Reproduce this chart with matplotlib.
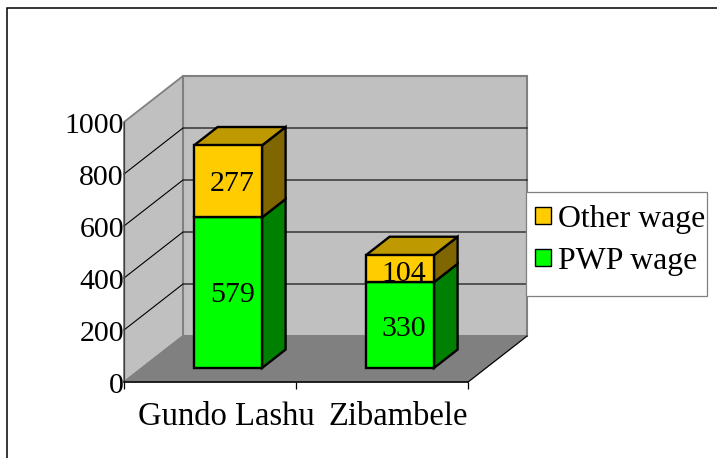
import matplotlib
matplotlib.use("Agg")
import matplotlib.pyplot as plt
from matplotlib.patches import Polygon, Patch, Rectangle
from matplotlib.transforms import ScaledTranslation

# data
categories = ["Gundo Lashu", "Zibambele"]
pwp_wage = [579, 330]
other_wage = [277, 104]
yticks = [0, 200, 400, 600, 800, 1000]

W, H = 717, 458
plt.rcParams['font.family'] = ['Liberation Serif', 'DejaVu Serif']

fig = plt.figure(figsize=(W / 100, H / 100), dpi=100)
ax = fig.add_axes([124 / W, 1 - 382 / H, 344 / W, 260 / H])
ax.set_xlim(0, 2)
ax.set_ylim(0, 1000)
ax.patch.set_visible(False)

# how far the back of the box is shifted, in data units
DX = 59 / 172
DY = 46 / 0.26


def proj(x, y, d):
    return (x + d * DX, y + d * DY)


def face(pts, color, edge, lw=1.7, z=2):
    ax.add_patch(Polygon([proj(*p) for p in pts], closed=True, facecolor=color,
                         edgecolor=edge, linewidth=lw, clip_on=False, zorder=z,
                         joinstyle='miter'))


# walls and floor
face([(0, 0, 0), (0, 0, 1), (0, 1000, 1), (0, 1000, 0)], '#c0c0c0', '#808080', 1.3)
face([(0, 0, 1), (2, 0, 1), (2, 1000, 1), (0, 1000, 1)], '#c0c0c0', '#808080', 1.5)
face([(0, 0, 0), (2, 0, 0), (2, 0, 1), (0, 0, 1)], '#808080', '#808080', 1.0)
ax.plot(*zip(proj(2, 0, 0), proj(2, 0, 1)), color='black', lw=0.8, clip_on=False, zorder=2.2)

# gridlines
for v in yticks[1:-1]:
    ax.plot(*zip(proj(0, v, 0), proj(0, v, 1), proj(2, v, 1)), color='black',
            lw=0.8, clip_on=False, zorder=2.1)

# bars
BW = 68 / 172
D0, D1 = 0.305, 0.705


def block(xc, y0, y1, front, side, top=None, text_dy=-2):
    x0, x1 = xc - BW / 2, xc + BW / 2
    face([(x1, y0, D0), (x1, y0, D1), (x1, y1, D1), (x1, y1, D0)], side, 'black', z=3)
    if top:
        face([(x0, y1, D0), (x1, y1, D0), (x1, y1, D1), (x0, y1, D1)], top, 'black', z=3)
    face([(x0, y0, D0), (x1, y0, D0), (x1, y1, D0), (x0, y1, D0)], front, 'black', z=4)
    cx, cy = proj(xc, (y0 + y1) / 2, D0)
    ax.annotate(str(y1 - y0), (cx, cy), xytext=(3, text_dy), textcoords='offset points',
                ha='center', va='center', fontsize=21.5, color='black',
                annotation_clip=False, zorder=5)


# the labels of the second bar sit a little lower in the reference
pwp_text_dy = [-2, -3]
other_text_dy = [-2, -4]

for i in range(len(categories)):
    block(i + 0.5, 0, pwp_wage[i], '#00ff00', '#008000', text_dy=pwp_text_dy[i])
    block(i + 0.5, pwp_wage[i], pwp_wage[i] + other_wage[i], '#ffcc00', '#7f6600', '#bf9900',
          text_dy=other_text_dy[i])

# axes
for s in ['top', 'right']:
    ax.spines[s].set_visible(False)
ax.spines['left'].set_color('#404040')
ax.spines['left'].set_linewidth(0.9)
ax.spines['bottom'].set_linewidth(1.1)
ax.spines['bottom'].set_zorder(2.5)
ax.set_yticks(yticks)
ax.tick_params(axis='y', length=0, pad=0, labelsize=21.5)
ax.set_xticks([0, 1, 2])
ax.set_xticklabels([])
ax.set_xticks([0.5, 1.5], minor=True)
ax.set_xticklabels(categories, minor=True, fontsize=23.5)
ax.tick_params(axis='x', which='major', length=5, width=0.9)
ax.tick_params(axis='x', which='minor', length=0, pad=14)

# labels are not centred under their ticks in the reference
shift_x = ScaledTranslation(16 / 100, 0, fig.dpi_scale_trans)
for lab in ax.get_xticklabels(minor=True):
    lab.set_transform(lab.get_transform() + shift_x)
shift_y = ScaledTranslation(0, -1 / 100, fig.dpi_scale_trans)
for lab in ax.get_yticklabels():
    lab.set_transform(lab.get_transform() + shift_y)

# legend, frame drawn by hand because the text runs nearly up to its right edge
ax.add_patch(Rectangle((526 / W, 1 - 296 / H), 181 / W, 104 / H, transform=fig.transFigure,
                       facecolor='white', edgecolor='#808080', linewidth=0.9,
                       clip_on=False, zorder=5.5))
handles = [Patch(facecolor='#ffcc00', edgecolor='black', label='Other wage'),
           Patch(facecolor='#00ff00', edgecolor='black', label='PWP wage')]
leg = ax.legend(handles=handles, loc='lower left', bbox_to_anchor=(535 / W, 1 - 276 / H),
                bbox_transform=fig.transFigure, fontsize=22.9, frameon=False,
                borderpad=0, labelspacing=0.42, handlelength=0.5, handleheight=0.47,
                handletextpad=0.23, borderaxespad=0)
leg.set_zorder(6)

# outer frame of the picture
fig.add_artist(Rectangle((7 / W, -0.05), 1.05, 1.05 - 8 / H, transform=fig.transFigure,
                         facecolor='none', edgecolor='black', linewidth=1.1))

fig.savefig('out.png', dpi=100)
